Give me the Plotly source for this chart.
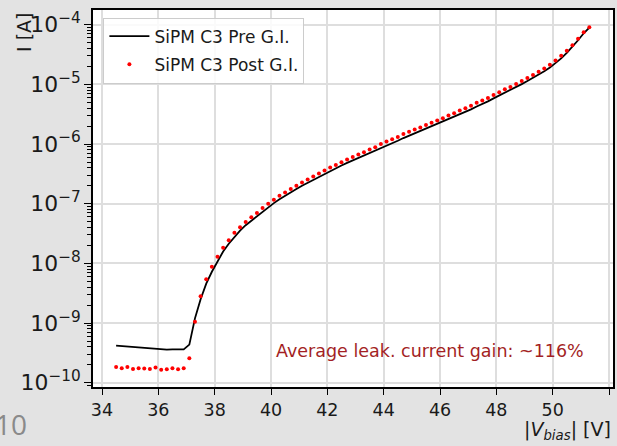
import plotly.graph_objects as go

# Bias voltage sweep [V]
voltage = [34.5, 34.7, 34.9, 35.1, 35.3, 35.5, 35.7, 35.9, 36.1, 36.3, 36.5, 36.7, 36.9, 37.1,
           37.3, 37.5, 37.7, 37.9, 38.1, 38.3, 38.5, 38.7, 38.9, 39.1, 39.3, 39.5, 39.7, 39.9,
           40.1, 40.3, 40.5, 40.7, 40.9, 41.1, 41.3, 41.5, 41.7, 41.9, 42.1, 42.3, 42.5, 42.7,
           42.9, 43.1, 43.3, 43.5, 43.7, 43.9, 44.1, 44.3, 44.5, 44.7, 44.9, 45.1, 45.3, 45.5,
           45.7, 45.9, 46.1, 46.3, 46.5, 46.7, 46.9, 47.1, 47.3, 47.5, 47.7, 47.9, 48.1, 48.3,
           48.5, 48.7, 48.9, 49.1, 49.3, 49.5, 49.7, 49.9, 50.1, 50.3, 50.5, 50.7, 50.9, 51.1, 51.3]

# log10 of leakage current [A]
pre_log10 = [-9.377, -9.385, -9.39, -9.40, -9.405, -9.41, -9.42, -9.425, -9.435, -9.445, -9.44, -9.445, -9.44, -9.36,
             -8.92, -8.6, -8.34, -8.14, -7.96, -7.8, -7.67, -7.55, -7.45, -7.36, -7.285, -7.21, -7.13, -7.06,
             -6.99, -6.925, -6.865, -6.81, -6.755, -6.70, -6.65, -6.60, -6.55, -6.50, -6.45, -6.405, -6.36, -6.315,
             -6.275, -6.235, -6.195, -6.155, -6.115, -6.07, -6.025, -5.985, -5.945, -5.9, -5.86, -5.82, -5.785, -5.745,
             -5.705, -5.665, -5.625, -5.583, -5.543, -5.5, -5.46, -5.42, -5.372, -5.332, -5.285, -5.235, -5.19, -5.14,
             -5.097, -5.047, -4.997, -4.945, -4.893, -4.838, -4.78, -4.72, -4.648, -4.565, -4.473, -4.373, -4.262, -4.145, -4.05]

post_log10 = [-9.733, -9.755, -9.733, -9.767, -9.755, -9.76, -9.767, -9.745, -9.783, -9.772, -9.755, -9.772, -9.755, -9.588,
              -8.977, -8.55, -8.267, -8.055, -7.89, -7.736, -7.61, -7.488, -7.393, -7.305, -7.227, -7.155, -7.072, -7.0,
              -6.933, -6.867, -6.81, -6.755, -6.7, -6.643, -6.593, -6.543, -6.493, -6.443, -6.393, -6.35, -6.305, -6.26,
              -6.217, -6.177, -6.138, -6.093, -6.055, -6.0, -5.957, -5.92, -5.882, -5.833, -5.793, -5.755, -5.722, -5.683,
              -5.643, -5.605, -5.567, -5.522, -5.483, -5.438, -5.4, -5.36, -5.31, -5.272, -5.227, -5.177, -5.133, -5.083,
              -5.043, -4.993, -4.943, -4.893, -4.843, -4.788, -4.733, -4.672, -4.6, -4.522, -4.438, -4.345, -4.238, -4.127, -4.043]

pre_current = [10 ** v for v in pre_log10]
post_current = [10 ** v for v in post_log10]

series_names = ["SiPM C3 Pre G.I.", "SiPM C3 Post G.I."]
note_text = "Average leak. current gain: ~116%"
x_ticks = [34, 36, 38, 40, 42, 44, 46, 48, 50, 52]

FONT = "DejaVu Sans"
TXT = "#1a1a1a"
BG = "#e3e3e3"

fig = go.Figure()
fig.add_trace(go.Scatter(x=voltage, y=pre_current, mode="lines", name=series_names[0],
                         legendgroup="pre", line=dict(color="black", width=1.8)))
fig.add_trace(go.Scatter(x=voltage, y=post_current, mode="markers", name=series_names[1],
                         legendgroup="post", marker=dict(color="red", size=4, line=dict(width=0))))

fig.update_layout(
    width=617, height=446,
    margin=dict(l=93, r=2, t=10, b=59),
    paper_bgcolor=BG,
    plot_bgcolor="white",
    font=dict(family=FONT, size=17.5, color=TXT),
    showlegend=True,
    legend=dict(x=0.02, y=0.98, xanchor="left", yanchor="top",
                bgcolor="rgba(255,255,255,0.85)", bordercolor="#cccccc", borderwidth=1,
                itemwidth=40, tracegroupgap=3,
                font=dict(family=FONT, size=17, color=TXT)),
)

fig.update_xaxes(
    range=[33.68, 52.14], tickvals=x_ticks, ticktext=[str(t) for t in x_ticks],
    showline=True, linecolor="black", linewidth=1.6, mirror=True,
    ticks="outside", ticklen=6, tickwidth=1.4, tickcolor="black",
    showgrid=True, gridcolor="#dedede", gridwidth=1.5, zeroline=False,
    tickfont=dict(family=FONT, size=17.5, color=TXT),
)
fig.update_yaxes(
    type="log", range=[-10.07, -3.755], dtick=1, tick0=0, exponentformat="power",
    showline=True, linecolor="black", linewidth=1.6, mirror=True,
    ticks="outside", ticklen=7, tickwidth=1.4, tickcolor="black",
    showgrid=True, gridcolor="#dedede", gridwidth=1.5, zeroline=False,
    tickfont=dict(family=FONT, size=17.5, color=TXT),
    minor=dict(ticks="outside", ticklen=4, tickwidth=1, tickcolor="black", dtick="D1", showgrid=False),
)

# Axis labels (placed at the ends like the reference)
fig.add_annotation(text="I [A]", xref="paper", yref="paper", x=-0.134, y=0.94,
                   xanchor="center", yanchor="middle", textangle=-90, showarrow=False,
                   font=dict(family=FONT, size=19, color=TXT))
fig.add_annotation(text="|<i>V</i><sub><i>bias</i></sub>| [V]", xref="paper", yref="paper",
                   x=1.0, y=-0.115, xanchor="right", yanchor="middle", showarrow=False,
                   font=dict(family=FONT, size=19, color=TXT))

# In-plot note
fig.add_annotation(text=note_text, xref="x", yref="y", x=45.66, y=-9.47,
                   xanchor="center", yanchor="middle", showarrow=False,
                   font=dict(family=FONT, size=17.5, color="#a31f24"))

# Stray grey text at bottom-left of the screenshot
fig.add_annotation(text="10", xref="paper", yref="paper", x=-0.124, y=-0.098,
                   xanchor="right", yanchor="middle", showarrow=False,
                   font=dict(family="Open Sans", size=28, color="#8a8a8a"))

fig.write_html("out.html",
               config={"displayModeBar": False},
               post_script="document.body.style.margin='0';document.body.style.overflow='hidden';"
                           "document.body.style.background='" + BG + "';")
